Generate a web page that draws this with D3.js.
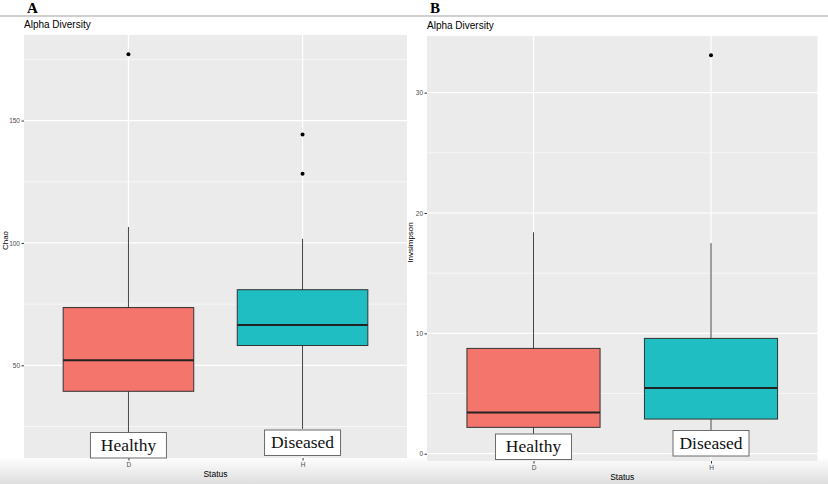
<!DOCTYPE html>
<html><head><meta charset="utf-8">
<script src="https://cdn.jsdelivr.net/npm/d3@7"></script>
<style>body{margin:0;background:#fff}svg{display:block}</style>
</head><body>
<svg id="c" width="828" height="484"></svg>
<script>
// ---- data ----
const categories = ["D", "H"];
const groupLabels = ["Healthy", "Diseased"];
const fillColors = ["#F4756C", "#1FBEC3"];
// [lowerWhisker, q1, median, q3, upperWhisker]
const chaoStats = [[20, 39.4, 52.1, 73.6, 106.5], [24, 58.1, 66.5, 80.9, 101.7]];
const chaoOutliers = [[177.1], [144.3, 128.3]];
const chaoTicks = [50, 100, 150];
const chaoMinor = [25, 75, 125, 175];
const invStats = [[1.0, 2.19, 3.42, 8.75, 18.4], [1.9, 2.88, 5.47, 9.58, 17.5]];
const invOutliers = [[], [33.1]];
const invTicks = [0, 10, 20, 30];
const invMinor = [5, 15, 25];

const svg = d3.select("#c");
const defs = svg.append("defs");
const grad = defs.append("linearGradient").attr("id", "bg").attr("x1", 0).attr("y1", 0).attr("x2", 0).attr("y2", 1);
grad.append("stop").attr("offset", "0%").attr("stop-color", "#ffffff");
grad.append("stop").attr("offset", "100%").attr("stop-color", "#dedede");

svg.append("rect").attr("x", 0).attr("y", 457).attr("width", 828).attr("height", 27).attr("fill", "url(#bg)");
svg.append("line").attr("x1", 0).attr("x2", 828).attr("y1", 16).attr("y2", 16).attr("stroke", "#d0d0d0").attr("stroke-width", 2);

function panel(o) {
  const g = svg.append("g");
  const all = o.stats.flat().concat(o.outliers.flat());
  const mn = d3.min(all), mx = d3.max(all), R = mx - mn;
  const y = d3.scaleLinear().domain([mn - 0.05 * R, mx + 0.05 * R]).range([o.bottom, o.top]);
  const x = d3.scaleLinear().domain([0.4, 2.6]).range([o.left, o.right]);
  const pos = i => x(i + 1);

  g.append("rect").attr("x", o.left).attr("y", o.top).attr("width", o.right - o.left).attr("height", o.bottom - o.top).attr("fill", "#EBEBEB");
  g.selectAll(".mn").data(o.minor).join("line").attr("x1", o.left).attr("x2", o.right)
    .attr("y1", d => y(d)).attr("y2", d => y(d)).attr("stroke", "#fff").attr("stroke-width", 0.6);
  g.selectAll(".mj").data(o.ticks).join("line").attr("x1", o.left).attr("x2", o.right)
    .attr("y1", d => y(d)).attr("y2", d => y(d)).attr("stroke", "#fff").attr("stroke-width", 1.2);
  g.selectAll(".vx").data(categories).join("line").attr("x1", (d, i) => pos(i)).attr("x2", (d, i) => pos(i))
    .attr("y1", o.top).attr("y2", o.bottom).attr("stroke", "#fff").attr("stroke-width", 1.2);

  // y axis
  const ya = d3.axisLeft(y).tickValues(o.ticks).tickSize(2.5).tickPadding(1.5);
  const yg = g.append("g").attr("transform", `translate(${o.left},0)`).call(ya);
  yg.select(".domain").remove();
  yg.selectAll("line").attr("stroke", "#333");
  yg.selectAll("text").attr("font-family", "Liberation Sans, Arial, sans-serif").attr("font-size", 6.5).attr("fill", "#4d4d4d");
  // x axis
  const xa = d3.axisBottom(d3.scalePoint().domain(categories).range([pos(0), pos(1)])).tickSize(2.5).tickPadding(2);
  const xg = g.append("g").attr("transform", `translate(0,${o.bottom})`).call(xa);
  xg.select(".domain").remove();
  xg.selectAll("line").attr("stroke", "#333");
  xg.selectAll("text").attr("font-family", "Liberation Sans, Arial, sans-serif").attr("font-size", 6.5).attr("fill", "#4d4d4d");

  g.append("text").attr("x", (o.left + o.right) / 2).attr("y", o.bottom + 19).attr("text-anchor", "middle")
    .attr("font-family", "Liberation Sans, Arial, sans-serif").attr("font-size", 8.5).attr("fill", "#000").text("Status");
  g.append("text").attr("transform", `translate(${o.ylabX},${(o.top + o.bottom) / 2 - 6}) rotate(-90)`).attr("text-anchor", "middle")
    .attr("font-family", "Liberation Sans, Arial, sans-serif").attr("font-size", 8).attr("fill", "#000").text(o.ylab);
  g.append("text").attr("x", o.left).attr("y", o.top - 7).attr("font-family", "Liberation Sans, Arial, sans-serif")
    .attr("font-size", 10).attr("fill", "#000").text("Alpha Diversity");
  svg.append("text").attr("x", o.letterX).attr("y", 13).attr("font-family", "Liberation Serif, Times New Roman, serif")
    .attr("font-weight", "bold").attr("font-size", 15).attr("fill", "#000").text(o.letter);

  const hw = x(0.375) - x(0);
  const bx = g.selectAll(".bx").data(o.stats).join("g");
  bx.append("line").attr("x1", (d, i) => pos(i)).attr("x2", (d, i) => pos(i))
    .attr("y1", d => y(d[0])).attr("y2", d => y(d[4])).attr("stroke", "#444").attr("stroke-width", 1);
  bx.append("rect").attr("x", (d, i) => pos(i) - hw).attr("width", 2 * hw)
    .attr("y", d => y(d[3])).attr("height", d => y(d[1]) - y(d[3]))
    .attr("fill", (d, i) => fillColors[i]).attr("stroke", "#333").attr("stroke-width", 1);
  bx.append("line").attr("x1", (d, i) => pos(i) - hw).attr("x2", (d, i) => pos(i) + hw)
    .attr("y1", d => y(d[2])).attr("y2", d => y(d[2])).attr("stroke", "#222").attr("stroke-width", 2);
  o.outliers.forEach((arr, i) => {
    g.selectAll(null).data(arr).join("circle").attr("cx", pos(i)).attr("cy", d => y(d)).attr("r", 2).attr("fill", "#000");
  });

  // annotation label boxes
  groupLabels.forEach((t, i) => {
    const bw = 76, bh = 25.5;
    const bottom = o.bottom - o.labOff[i];
    g.append("rect").attr("x", pos(i) - bw / 2).attr("y", bottom - bh).attr("width", bw).attr("height", bh)
      .attr("fill", "#fff").attr("stroke", "#6b6b6b").attr("stroke-width", 1);
    g.append("text").attr("x", pos(i)).attr("y", bottom - 7.5).attr("text-anchor", "middle")
      .attr("font-family", "Liberation Serif, Times New Roman, serif").attr("font-size", 17.5).attr("fill", "#111").text(t);
  });
}

panel({left: 24, right: 407, top: 35, bottom: 458, stats: chaoStats, outliers: chaoOutliers,
  ticks: chaoTicks, minor: chaoMinor, ylab: "Chao", ylabX: 8, letter: "A", letterX: 27, labOff: [0, 2.5]});
panel({left: 427, right: 817.5, top: 36, bottom: 461, stats: invStats, outliers: invOutliers,
  ticks: invTicks, minor: invMinor, ylab: "Invsimpson", ylabX: 413, letter: "B", letterX: 430, labOff: [1.5, 5]});
</script>
</body></html>
